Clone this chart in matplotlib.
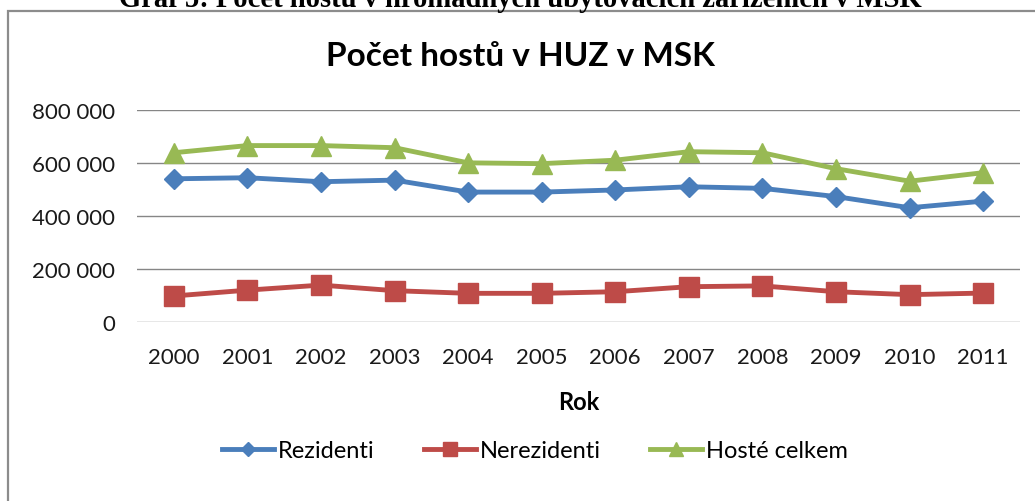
import matplotlib
matplotlib.use("Agg")
import matplotlib.pyplot as plt
from matplotlib.patches import Rectangle
from matplotlib.ticker import FuncFormatter

plt.rcParams['font.family'] = ['Lato', 'DejaVu Sans']

# data
years = ["2000", "2001", "2002", "2003", "2004", "2005",
         "2006", "2007", "2008", "2009", "2010", "2011"]
rezidenti = [540000, 544000, 529000, 535000, 490000, 490000,
             498000, 510000, 504000, 473000, 431000, 456000]
nerezidenti = [99000, 121000, 140000, 119000, 109000, 109000,
               115000, 134000, 137000, 115000, 104000, 110000]
hoste_celkem = [638000, 665000, 665000, 657000, 600000, 597000,
                610000, 642000, 638000, 578000, 531000, 563000]
y_ticks = [0, 200000, 400000, 600000, 800000]

W, H = 1035, 502
fig = plt.figure(figsize=(W / 100, H / 100), dpi=100)

# caption above the chart (cut off at the top, as in the source)
fig.text(520 / W, 1 - 7 / H, "Graf 5: Počet hostů v hromadných ubytovacích zařízeních v MSK",
         ha="center", va="baseline", fontsize=20.6, fontweight="bold",
         family=["Liberation Serif", "DejaVu Serif"], color="black")

# chart frame
frame = Rectangle((8 / W, -0.1), 1.2, 1 - 12 / H + 0.1,
                  transform=fig.transFigure, facecolor="white",
                  edgecolor="#8c8c8c", linewidth=1.6, zorder=-1)
fig.patches.append(frame)

ax = fig.add_axes([137 / W, 1 - 323.3 / H, (1020 - 137) / W, (323.3 - 110.7) / H])
ax.set_facecolor("none")
x = range(len(years))
ax.plot(x, rezidenti, color="#4A7EBB", lw=3.5, marker="D", ms=10, label="Rezidenti")
ax.plot(x, nerezidenti, color="#BE4B48", lw=3.5, marker="s", ms=14.5, label="Nerezidenti")
ax.plot(x, hoste_celkem, color="#98B954", lw=3.5, marker="^", ms=15, label="Hosté celkem")

ax.set_xlim(-0.5, len(years) - 0.5)
ax.set_ylim(0, 800000)
ax.set_yticks(y_ticks)
ax.yaxis.set_major_formatter(FuncFormatter(lambda v, p: f"{int(v):,}".replace(",", " ")))
ax.set_xticks(list(x))
ax.set_xticklabels(years)
ax.grid(axis="y", color="#868686", lw=1)
ax.set_axisbelow(True)
for s in ax.spines.values():
    s.set_visible(False)
ax.tick_params(axis="both", length=0, labelsize=16, colors="#1a1a1a")
ax.tick_params(axis="y", pad=16)
ax.tick_params(axis="x", pad=18)

ax.set_xlabel("Rok", fontsize=17, fontweight="bold", labelpad=16)

fig.text(520 / W, 1 - 57 / H, "Počet hostů v HUZ v MSK", ha="center", va="center",
         fontsize=24, fontweight="bold")

fig.legend(loc="center", bbox_to_anchor=(535 / W, 1 - 452 / H), ncol=3, frameon=False,
           fontsize=17, handlelength=2.2, handletextpad=0.15, columnspacing=2.1,
           markerscale=0.7)

fig.savefig("out.png", dpi=100)
